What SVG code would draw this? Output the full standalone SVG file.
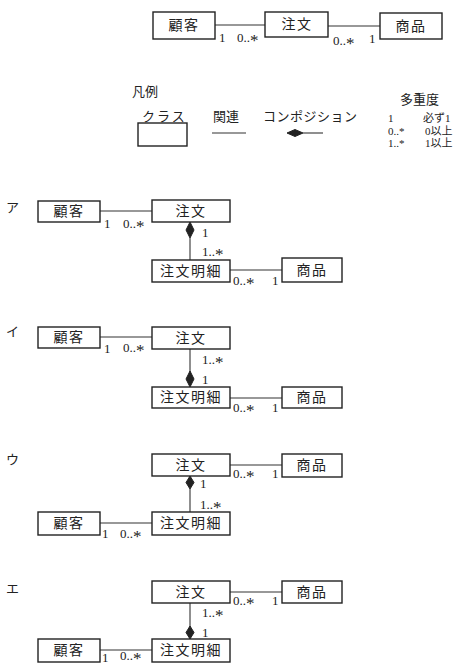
<svg xmlns="http://www.w3.org/2000/svg" width="463" height="666" viewBox="0 0 463 666">
<style>
.box{fill:#fff;stroke:#222;stroke-width:1.4}
.ln{stroke:#333;stroke-width:1.1;fill:none}
.dm{fill:#222;stroke:#222;stroke-width:1}
.t{font-family:"Liberation Serif","Noto Sans CJK JP",serif;font-size:14px;fill:#222;text-anchor:middle;dominant-baseline:central;letter-spacing:1.5px}
.m{font-family:"Liberation Serif","Noto Sans CJK JP",serif;font-size:13px;fill:#222;dominant-baseline:central}
.s{font-size:17px}
.lg{font-family:"Noto Sans CJK JP",sans-serif;font-size:13px;fill:#222;dominant-baseline:central}
.r{font-family:"Liberation Serif","Noto Sans CJK JP",serif;font-size:11px;fill:#222;dominant-baseline:central}
</style>
<rect width="463" height="666" fill="#fff"/>

<!-- top diagram -->
<g id="connectors-top">
<line class="ln" x1="215" y1="25" x2="265" y2="25"/>
<line class="ln" x1="328" y1="26" x2="380" y2="26"/>
<text class="m" x="219" y="37">1</text>
<text class="m" x="237" y="37">0..<tspan class="s" dy="3">*</tspan></text>
<text class="m" x="333" y="40">0..<tspan class="s" dy="3">*</tspan></text>
<text class="m" x="369" y="38">1</text>
</g>
<g id="top-kokyaku"><rect class="box" x="153" y="12" width="62" height="27"/><text class="t" x="184" y="25">顧客</text></g>
<g id="top-chumon"><rect class="box" x="265" y="12" width="63" height="25"/><text class="t" x="297" y="24">注文</text></g>
<g id="top-shohin"><rect class="box" x="380" y="13" width="62" height="26"/><text class="t" x="411" y="26">商品</text></g>

<!-- legend -->
<g id="legend">
<text class="lg" x="132" y="90">凡例</text>
<text class="lg" x="142" y="115" letter-spacing="2">クラス</text>
<rect class="box" x="138" y="123" width="49" height="23"/>
<text class="lg" x="213" y="115">関連</text>
<line class="ln" x1="212" y1="133" x2="246" y2="133"/>
<text class="lg" x="263" y="115" letter-spacing="0.5">コンポジション</text>
<polygon class="dm" points="287,133 295,129.5 303,133 295,136.5"/>
<line class="ln" x1="303" y1="133" x2="323" y2="133"/>
<text class="lg" x="400" y="98">多重度</text>
<text class="r" x="388" y="118">1</text>
<text class="r" x="423" y="118">必ず1</text>
<text class="r" x="388" y="130.5">0..*</text>
<text class="r" x="425" y="130.5">0以上</text>
<text class="r" x="388" y="143">1..*</text>
<text class="r" x="425" y="143">1以上</text>
</g>

<!-- ア -->
<g id="label-a"><text class="lg" x="6" y="206" font-size="14">ア</text></g>
<g id="connectors-a">
<line class="ln" x1="100" y1="211" x2="152" y2="211"/>
<polygon class="dm" points="190,222 194,230 190,238 186,230"/>
<line class="ln" x1="190" y1="238" x2="190" y2="260"/>
<line class="ln" x1="230" y1="270" x2="282" y2="270"/>
<text class="m" x="104" y="223">1</text>
<text class="m" x="123" y="223">0..<tspan class="s" dy="3">*</tspan></text>
<text class="m" x="202" y="232">1</text>
<text class="m" x="202" y="251">1..<tspan class="s" dy="3">*</tspan></text>
<text class="m" x="233" y="280">0..<tspan class="s" dy="3">*</tspan></text>
<text class="m" x="272" y="280">1</text>
</g>
<g id="a-kokyaku"><rect class="box" x="38" y="201" width="62" height="21"/><text class="t" x="69" y="211.5">顧客</text></g>
<g id="a-chumon"><rect class="box" x="152" y="200" width="78" height="22"/><text class="t" x="191" y="211">注文</text></g>
<g id="a-meisai"><rect class="box" x="152" y="260" width="78" height="22"/><text class="t" x="191" y="271">注文明細</text></g>
<g id="a-shohin"><rect class="box" x="282" y="258" width="60" height="24"/><text class="t" x="312" y="270">商品</text></g>

<!-- イ -->
<g id="label-i"><text class="lg" x="6" y="330" font-size="14">イ</text></g>
<g id="connectors-i">
<line class="ln" x1="100" y1="337" x2="152" y2="337"/>
<line class="ln" x1="190" y1="349" x2="190" y2="373"/>
<polygon class="dm" points="190,371 194,379 190,387 186,379"/>
<line class="ln" x1="230" y1="398" x2="282" y2="398"/>
<text class="m" x="104" y="348">1</text>
<text class="m" x="123" y="347">0..<tspan class="s" dy="3">*</tspan></text>
<text class="m" x="202" y="359">1..<tspan class="s" dy="3">*</tspan></text>
<text class="m" x="202" y="379">1</text>
<text class="m" x="233" y="407">0..<tspan class="s" dy="3">*</tspan></text>
<text class="m" x="272" y="407">1</text>
</g>
<g id="i-kokyaku"><rect class="box" x="38" y="327" width="62" height="21"/><text class="t" x="69" y="337.5">顧客</text></g>
<g id="i-chumon"><rect class="box" x="152" y="327" width="78" height="22"/><text class="t" x="191" y="338">注文</text></g>
<g id="i-meisai"><rect class="box" x="152" y="387" width="78" height="21"/><text class="t" x="191" y="397.5">注文明細</text></g>
<g id="i-shohin"><rect class="box" x="282" y="387" width="60" height="21"/><text class="t" x="312" y="397.5">商品</text></g>

<!-- ウ -->
<g id="label-u"><text class="lg" x="6" y="458" font-size="14">ウ</text></g>
<g id="connectors-u">
<line class="ln" x1="230" y1="465" x2="282" y2="465"/>
<polygon class="dm" points="190,476 194,482.5 190,489 186,482.5"/>
<line class="ln" x1="190" y1="489" x2="190" y2="512"/>
<line class="ln" x1="100" y1="523" x2="152" y2="523"/>
<text class="m" x="233" y="473">0..<tspan class="s" dy="3">*</tspan></text>
<text class="m" x="272" y="473">1</text>
<text class="m" x="200" y="483">1</text>
<text class="m" x="200" y="504">1..<tspan class="s" dy="3">*</tspan></text>
<text class="m" x="102" y="533">1</text>
<text class="m" x="120" y="533">0..<tspan class="s" dy="3">*</tspan></text>
</g>
<g id="u-chumon"><rect class="box" x="152" y="454" width="78" height="22"/><text class="t" x="191" y="465">注文</text></g>
<g id="u-shohin"><rect class="box" x="282" y="454" width="60" height="23"/><text class="t" x="312" y="465.5">商品</text></g>
<g id="u-meisai"><rect class="box" x="152" y="512" width="78" height="23"/><text class="t" x="191" y="523.5">注文明細</text></g>
<g id="u-kokyaku"><rect class="box" x="38" y="512" width="62" height="23"/><text class="t" x="69" y="523.5">顧客</text></g>

<!-- エ -->
<g id="label-e"><text class="lg" x="6" y="587" font-size="14">エ</text></g>
<g id="connectors-e">
<line class="ln" x1="230" y1="592" x2="282" y2="592"/>
<line class="ln" x1="190" y1="603" x2="190" y2="627"/>
<polygon class="dm" points="190,626 194,632.5 190,639 186,632.5"/>
<line class="ln" x1="100" y1="650" x2="152" y2="650"/>
<text class="m" x="233" y="600">0..<tspan class="s" dy="3">*</tspan></text>
<text class="m" x="272" y="600">1</text>
<text class="m" x="202" y="612">1..<tspan class="s" dy="3">*</tspan></text>
<text class="m" x="202" y="632">1</text>
<text class="m" x="102" y="657">1</text>
<text class="m" x="120" y="655">0..<tspan class="s" dy="3">*</tspan></text>
</g>
<g id="e-chumon"><rect class="box" x="152" y="581" width="78" height="22"/><text class="t" x="191" y="592">注文</text></g>
<g id="e-shohin"><rect class="box" x="282" y="581" width="60" height="22"/><text class="t" x="312" y="592">商品</text></g>
<g id="e-meisai"><rect class="box" x="152" y="639" width="78" height="23"/><text class="t" x="191" y="650.5">注文明細</text></g>
<g id="e-kokyaku"><rect class="box" x="38" y="639" width="62" height="23"/><text class="t" x="69" y="650.5">顧客</text></g>
</svg>
